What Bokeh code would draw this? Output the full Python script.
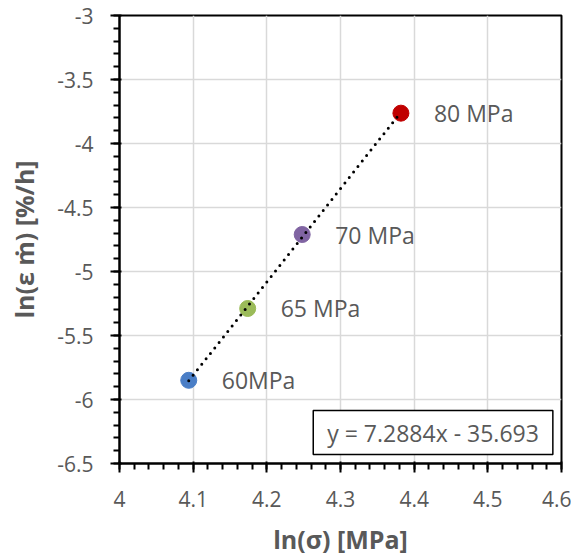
import numpy as np
from bokeh.plotting import figure
from bokeh.models import (ColumnDataSource, FixedTicker, CustomJSTickFormatter, Label, Range1d)
from bokeh.core.properties import value
from bokeh.embed import file_html
from bokeh.resources import INLINE

# ---- data ----
stress_labels = ["60MPa", "65 MPa", "70 MPa", "80 MPa"]
ln_sigma = [4.094, 4.174, 4.248, 4.382]
ln_rate = [-5.850, -5.289, -4.711, -3.763]
point_colors = ["#4A7EC6", "#9BBB59", "#8064A2", "#C00000"]
slope = 7.2884
intercept = -35.693
equation_text = "y = 7.2884x - 35.693"
x_ticks = [4.0, 4.1, 4.2, 4.3, 4.4, 4.5, 4.6]
y_ticks = [-6.5, -6.0, -5.5, -5.0, -4.5, -4.0, -3.5, -3.0]
x_title = "ln(σ) [MPa]"
y_title = "ln(ε ṁ) [%/h]"

FONT = "Open Sans"
GRAY = "#595959"

p = figure(width=571, height=547, output_backend="svg", toolbar_location=None,
           x_range=Range1d(4.0, 4.6), y_range=Range1d(-6.5, -3.0),
           min_border_left=119, min_border_right=10,
           min_border_top=15, min_border_bottom=84)
p.frame_width = 442
p.frame_height = 448
p.background_fill_color = "white"
p.border_fill_color = "white"
p.outline_line_color = "black"
p.outline_line_width = 2

x_minor = list(np.round(np.arange(4.0, 4.6001, 0.02), 3))
y_minor = list(np.round(np.arange(-6.5, -2.9999, 0.1), 3))
p.xaxis.ticker = FixedTicker(ticks=x_ticks, minor_ticks=x_minor)
p.yaxis.ticker = FixedTicker(ticks=y_ticks, minor_ticks=y_minor)
fmt = "return String(Math.round(tick*10)/10);"
p.xaxis.formatter = CustomJSTickFormatter(code=fmt)
p.yaxis.formatter = CustomJSTickFormatter(code=fmt)

for ax in (p.xaxis, p.yaxis):
    ax.axis_line_color = "black"
    ax.axis_line_width = 2
    ax.major_tick_line_color = "black"
    ax.major_tick_line_width = 2
    ax.minor_tick_line_color = "black"
    ax.minor_tick_line_width = 2
    ax.major_tick_in = 2
    ax.major_tick_out = 9
    ax.minor_tick_in = 0
    ax.minor_tick_out = 6
    ax.major_label_text_font = FONT
    ax.major_label_text_font_size = "21px"
    ax.major_label_text_color = GRAY
    ax.axis_label_text_font = FONT
    ax.axis_label_text_font_size = "25px"
    ax.axis_label_text_font_style = "bold"
    ax.axis_label_text_color = GRAY

p.xaxis.axis_label = x_title
p.yaxis.axis_label = y_title
p.xaxis.major_label_standoff = 18
p.yaxis.major_label_standoff = 17
p.xaxis.axis_label_standoff = 12
p.yaxis.axis_label_standoff = 13

p.xgrid.grid_line_color = "#D9D9D9"
p.ygrid.grid_line_color = "#D9D9D9"
p.xgrid.grid_line_width = 1.5
p.ygrid.grid_line_width = 1.5

# trend line from the fitted equation
tx = [min(ln_sigma), max(ln_sigma)]
ty = [slope * v + intercept for v in tx]

src = ColumnDataSource(dict(x=ln_sigma, y=ln_rate, c=point_colors, lab=stress_labels))
p.scatter("x", "y", source=src, size=16, fill_color="c", line_color="c")
p.line(tx, ty, line_color="black", line_width=3, line_dash="0 7", line_cap="round")

p.text("x", "y", text="lab", source=src, x_offset=33, text_baseline="middle",
       text_align="left", text_font=value(FONT), text_font_size="23px", text_color=GRAY)

eq = Label(x=4.263, y=-6.258, text=equation_text, text_font=FONT, text_font_size="23px",
           text_color=GRAY, text_baseline="middle", text_align="left",
           border_line_color="black", border_line_width=1.5,
           background_fill_color="white", padding=(14, 6))
p.add_layout(eq)

open("out.html", "w").write(file_html(p, INLINE))
